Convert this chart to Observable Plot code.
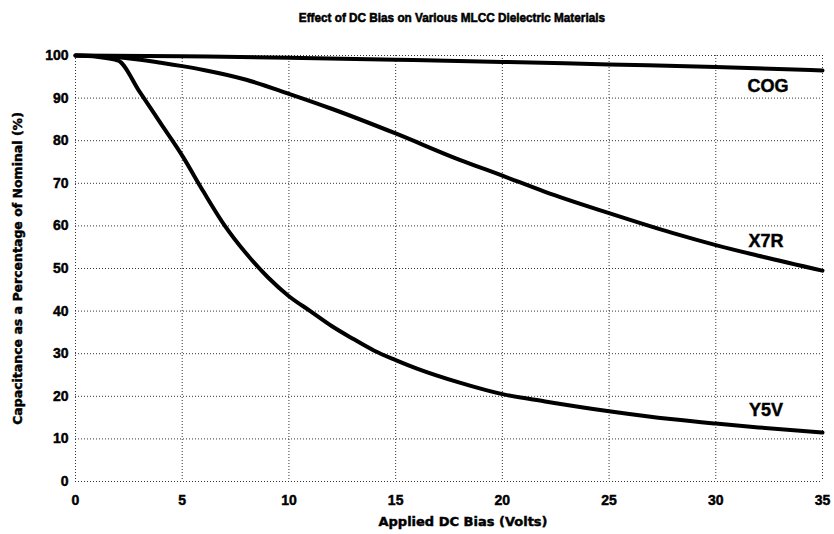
<!DOCTYPE html>
<html><head><meta charset="utf-8">
<script src="https://cdn.jsdelivr.net/npm/d3@7"></script>
<script src="https://cdn.jsdelivr.net/npm/@observablehq/plot@0.6"></script>
<style>
body{margin:0;background:#fff;font-family:"Liberation Sans",Arial,sans-serif;}
#title{height:36px;line-height:34px;padding-left:70px;text-align:center;width:764px;}
#title span{display:inline-block;transform:scaleX(0.87);font-family:"Liberation Sans",Arial,sans-serif;font-weight:bold;font-size:13.5px;color:#000;-webkit-text-stroke:0.6px #000;}
#chart svg text{stroke:#000;stroke-width:0.45px;}
</style></head><body>
<div id="title"><span>Effect of DC Bias on Various MLCC Dielectric Materials</span></div>
<div id="chart"></div>
<script>
const cogV = [0,5,10,15,20,25,30,35];
const cogC = [100,99.8,99.5,99,98.5,97.9,97.3,96.5];
const x7rV = [0,2,4,5,6,8,10,12,15,18,20,22,25,28,30,32,35];
const x7rC = [100,99.6,98.3,97.5,96.6,94.3,91,87.5,81.7,75.5,71.8,68,63,58.3,55.5,53,49.5];
const y5vV = [0,1,2,3,4,5,6,7,8,9,10,11,12,13,14,15,16,18,20,22,25,28,30,32,35];
const y5vC = [100,99.7,98.8,91.5,84,76.5,68,60,53.5,48,43.5,40,36.5,33.5,30.7,28.5,26.5,23.2,20.5,18.8,16.5,14.6,13.6,12.7,11.5];
const labelNames = ["COG","X7R","Y5V"];
const labelX = [32.45,32.35,32.35];
const labelY = [92.7,56.3,16.7];
const xTicks = [0,5,10,15,20,25,30,35];
const yTicks = [0,10,20,30,40,50,60,70,80,90,100];

const rows = [];
[["COG",cogV,cogC],["X7R",x7rV,x7rC],["Y5V",y5vV,y5vC]].forEach(([s,v,c])=>v.forEach((d,i)=>rows.push({s,v:d,c:c[i]})));
const labels = labelNames.map((n,i)=>({n,x:labelX[i],y:labelY[i]}));

const plot = Plot.plot({
  width:834, height:498,
  marginTop:19, marginBottom:53, marginLeft:75, marginRight:12,
  style:{fontFamily:"Liberation Sans, Arial, sans-serif", fontWeight:"bold", fontSize:"14px", color:"#000", background:"#fff"},
  x:{domain:[0,35], ticks:xTicks, label:null, tickSize:0, tickPadding:14},
  y:{domain:[0,100], ticks:yTicks, label:null, tickSize:0, tickPadding:7},
  marks:[
    Plot.ruleY(yTicks,{stroke:"#333", strokeWidth:1, strokeDasharray:"1,2"}),
    Plot.ruleX(xTicks,{stroke:"#333", strokeWidth:1, strokeDasharray:"1,2"}),
    Plot.axisX({ticks:xTicks, tickSize:0, tickPadding:14, label:"Applied DC Bias (Volts)", labelAnchor:"center", labelArrow:"none", labelOffset:44, fontSize:14}),
    Plot.axisY({ticks:yTicks, tickSize:0, tickPadding:7, label:"Capacitance as a Percentage of Nominal (%)", labelAnchor:"center", labelArrow:"none", labelOffset:62, fontSize:14}),
    Plot.line(rows,{x:"v", y:"c", z:"s", stroke:"#000", strokeWidth:4, curve:"monotone-x"}),
    Plot.text(labels,{x:"x", y:"y", text:"n", fontSize:18, fontWeight:"bold", fill:"#000", textAnchor:"middle"})
  ]
});
document.getElementById("chart").appendChild(plot);
// axis labels in a wider heavy face
plot.querySelectorAll('g[aria-label="x-axis label"] text').forEach(t=>{
  t.setAttribute("font-family","DejaVu Sans, Liberation Sans, sans-serif");
  t.setAttribute("font-size","13");
  t.setAttribute("dx","14");
});
plot.querySelectorAll('g[aria-label="y-axis label"] text').forEach(t=>{
  t.setAttribute("font-family","DejaVu Sans, Liberation Sans, sans-serif");
  t.setAttribute("font-size","12.5");
});
</script></body></html>
